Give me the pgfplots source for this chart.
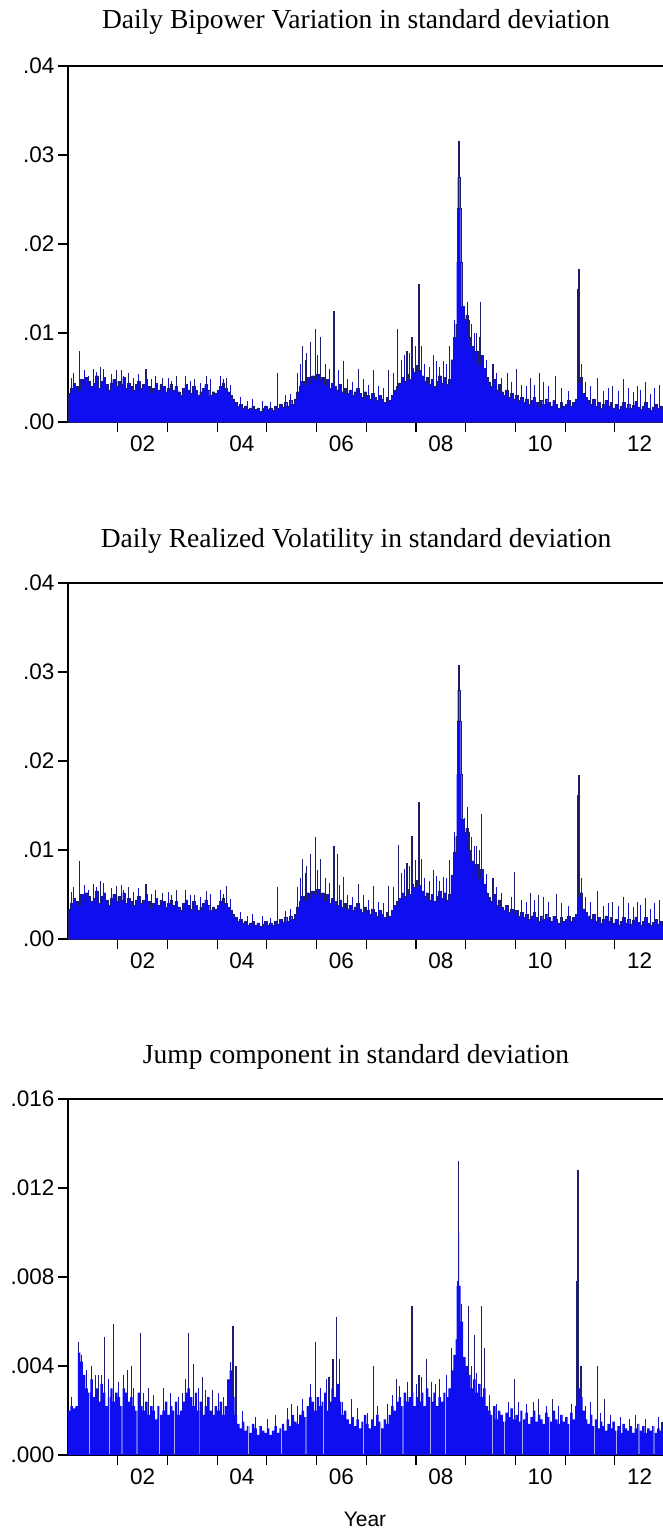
\documentclass[border=0pt]{standalone}
\usepackage{fontspec}
\setmainfont{Liberation Serif}
\newfontfamily\arialf{Liberation Sans}
\usepackage{pgfplots}
\pgfplotsset{compat=1.18}
\definecolor{bandblue}{RGB}{14,14,240}
\definecolor{spikenavy}{RGB}{30,30,110}
\pgfplotsset{
 evstyle/.style={
  scale only axis, width=600pt, height=356pt,
  xmin=2001, xmax=2013.07, ymin=0,
  axis line style={line width=1.3pt},
  tick align=outside, tick pos=left,
  major tick length=10pt,
  tick style={line width=1.1pt, black},
  xtick={2002,2003,2004,2005,2006,2007,2008,2009,2010,2011,2012}, xticklabels={},
  extra x ticks={2002.5,2004.5,2006.5,2008.5,2010.5,2012.5},
  extra x tick labels={02,04,06,08,10,12},
  extra x tick style={major tick length=0pt, tick style={draw=none}},
  ticklabel style={font=\arialf\fontsize{22.5}{22.5}\selectfont},
  x tick label style={yshift=-10pt},
  scaled x ticks=false, scaled y ticks=false,
 },
 band/.style={const plot, fill=bandblue, draw=spikenavy, line width=0.35pt},
 bandj/.style={const plot, fill=bandblue, draw=none},
 spk/.style={ycomb, draw=spikenavy, line width=1.1pt},
 spk2/.style={ycomb, draw=bandblue!70!spikenavy, line width=1.0pt},
}
\begin{document}
\begin{tikzpicture}
\node[font=\fontsize{27.5}{27.5}\selectfont] at (356pt,-22pt) {Daily Bipower Variation in standard deviation};
\node[font=\fontsize{27.5}{27.5}\selectfont] at (356pt,-541pt) {Daily Realized Volatility in standard deviation};
\node[font=\fontsize{27.5}{27.5}\selectfont] at (356pt,-1057pt) {Jump component in standard deviation};
\node[font=\arialf\fontsize{21}{21}\selectfont] at (365pt,-1519pt) {Year};

% ---------- Panel 1: BV ----------
\begin{axis}[evstyle, at={(68pt,-66pt)}, anchor=north west, ymax=0.04,
  ytick={0,0.01,0.02,0.03,0.04}, yticklabels={.00,.01,.02,.03,.04}]
\addplot[spk] coordinates {(2001.24,0.0080) (2001.52,0.0060) (2001.66,0.0062) (2001.98,0.0058) (2002.22,0.0055) (2002.57,0.0060) (2002.90,0.0050) (2003.18,0.0052) (2003.55,0.0048) (2003.78,0.0052) (2004.18,0.0050) (2005.22,0.0055) (2005.72,0.0085) (2005.80,0.0078) (2005.88,0.0090) (2005.97,0.0105) (2006.08,0.0095) (2006.35,0.0125) (2006.55,0.0068) (2006.85,0.0060) (2007.15,0.0058) (2007.45,0.0058) (2007.62,0.0105) (2007.82,0.0080) (2007.92,0.0095) (2008.06,0.0155) (2008.12,0.0085) (2008.35,0.0075) (2008.55,0.0068) (2009.04,0.0135) (2009.12,0.0110) (2009.22,0.0100) (2009.30,0.0135) (2009.55,0.0065) (2009.85,0.0055) (2010.02,0.0060) (2010.30,0.0050) (2010.48,0.0055) (2010.80,0.0052) (2011.25,0.0150) (2011.28,0.0172) (2011.66,0.0050) (2011.95,0.0040) (2012.18,0.0048) (2012.45,0.0040) (2012.62,0.0045) (2012.90,0.0042)};
\addplot[spk2] coordinates {(2001.07,0.0050)(2001.12,0.0055)(2001.33,0.0058)(2001.42,0.0052)(2001.58,0.0056)(2001.72,0.0060)(2001.87,0.0054)(2002.07,0.0058)(2002.12,0.0052)(2002.32,0.0050)(2002.42,0.0054)(2002.67,0.0048)(2002.77,0.0052)(2003.02,0.0050)(2003.08,0.0046)(2003.37,0.0052)(2003.47,0.0046)(2003.67,0.0044)(2003.87,0.0048)(2004.07,0.0052)(2004.12,0.0048)(2004.27,0.0042)(2004.47,0.0028)(2004.62,0.0024)(2004.72,0.0026)(2004.92,0.0024)(2005.07,0.0022)(2005.37,0.0030)(2005.47,0.0032)(2005.62,0.0055)(2005.67,0.0065)(2005.77,0.0070)(2006.02,0.0075)(2006.17,0.0065)(2006.27,0.0060)(2006.45,0.0058)(2006.62,0.0048)(2006.72,0.0045)(2006.95,0.0048)(2007.05,0.0042)(2007.25,0.0040)(2007.35,0.0038)(2007.55,0.0055)(2007.70,0.0070)(2007.77,0.0075)(2007.87,0.0078)(2008.00,0.0085)(2008.18,0.0065)(2008.27,0.0062)(2008.42,0.0068)(2008.47,0.0062)(2008.62,0.0065)(2008.68,0.0085)(2008.77,0.0115)(2008.97,0.0130)(2009.08,0.0115)(2009.18,0.0100)(2009.27,0.0095)(2009.42,0.0070)(2009.62,0.0055)(2009.72,0.0050)(2009.92,0.0045)(2010.12,0.0042)(2010.22,0.0040)(2010.38,0.0042)(2010.57,0.0045)(2010.67,0.0040)(2010.92,0.0038)(2011.07,0.0035)(2011.32,0.0065)(2011.42,0.0045)(2011.52,0.0040)(2011.77,0.0035)(2011.87,0.0038)(2012.07,0.0035)(2012.27,0.0038)(2012.37,0.0034)(2012.52,0.0036)(2012.72,0.0032)(2012.80,0.0038)(2012.97,0.0032)};
\addplot[band] coordinates {
(2001.00,0.0032)(2001.05,0.0038)(2001.10,0.0044)(2001.15,0.0040)(2001.20,0.0036)(2001.25,0.0048)(2001.30,0.0042)(2001.35,0.0050)(2001.40,0.0046)(2001.45,0.0040)(2001.50,0.0044)(2001.55,0.0052)(2001.60,0.0038)(2001.65,0.0046)(2001.70,0.0050)(2001.75,0.0042)(2001.80,0.0036)(2001.85,0.0044)(2001.90,0.0048)(2001.95,0.0040)
(2002.00,0.0046)(2002.05,0.0042)(2002.10,0.0050)(2002.15,0.0038)(2002.20,0.0044)(2002.25,0.0040)(2002.30,0.0036)(2002.35,0.0042)(2002.40,0.0046)(2002.45,0.0038)(2002.50,0.0042)(2002.55,0.0048)(2002.60,0.0040)(2002.65,0.0034)(2002.70,0.0038)(2002.75,0.0044)(2002.80,0.0036)(2002.85,0.0042)(2002.90,0.0040)(2002.95,0.0034)
(2003.00,0.0038)(2003.05,0.0042)(2003.10,0.0036)(2003.15,0.0040)(2003.20,0.0034)(2003.25,0.0030)(2003.30,0.0038)(2003.35,0.0042)(2003.40,0.0036)(2003.45,0.0032)(2003.50,0.0040)(2003.55,0.0036)(2003.60,0.0030)(2003.65,0.0034)(2003.70,0.0038)(2003.75,0.0042)(2003.80,0.0036)(2003.85,0.0030)(2003.90,0.0034)(2003.95,0.0032)
(2004.00,0.0036)(2004.05,0.0040)(2004.10,0.0044)(2004.15,0.0038)(2004.20,0.0034)(2004.25,0.0030)(2004.30,0.0026)(2004.35,0.0022)(2004.40,0.0018)(2004.45,0.0020)(2004.50,0.0016)(2004.55,0.0018)(2004.60,0.0014)(2004.65,0.0016)(2004.70,0.0018)(2004.75,0.0014)(2004.80,0.0016)(2004.85,0.0012)(2004.90,0.0015)(2004.95,0.0018)
(2005.00,0.0014)(2005.05,0.0016)(2005.10,0.0013)(2005.15,0.0018)(2005.20,0.0015)(2005.25,0.0020)(2005.30,0.0017)(2005.35,0.0022)(2005.40,0.0018)(2005.45,0.0024)(2005.50,0.0020)(2005.55,0.0026)(2005.60,0.0034)(2005.65,0.0040)(2005.70,0.0046)(2005.75,0.0042)(2005.80,0.0050)(2005.85,0.0044)(2005.90,0.0052)(2005.95,0.0048)
(2006.00,0.0054)(2006.05,0.0046)(2006.10,0.0050)(2006.15,0.0042)(2006.20,0.0048)(2006.25,0.0038)(2006.30,0.0044)(2006.35,0.0040)(2006.40,0.0036)(2006.45,0.0042)(2006.50,0.0034)(2006.55,0.0038)(2006.60,0.0032)(2006.65,0.0036)(2006.70,0.0030)(2006.75,0.0034)(2006.80,0.0038)(2006.85,0.0032)(2006.90,0.0028)(2006.95,0.0034)
(2007.00,0.0030)(2007.05,0.0026)(2007.10,0.0032)(2007.15,0.0028)(2007.20,0.0024)(2007.25,0.0030)(2007.30,0.0026)(2007.35,0.0022)(2007.40,0.0028)(2007.45,0.0024)(2007.50,0.0030)(2007.55,0.0036)(2007.60,0.0040)(2007.65,0.0044)(2007.70,0.0050)(2007.75,0.0046)(2007.80,0.0054)(2007.85,0.0048)(2007.90,0.0060)(2007.95,0.0056)
(2008.00,0.0064)(2008.05,0.0058)(2008.10,0.0052)(2008.15,0.0046)(2008.20,0.0050)(2008.25,0.0042)(2008.30,0.0048)(2008.35,0.0040)(2008.40,0.0046)(2008.45,0.0052)(2008.50,0.0044)(2008.55,0.0050)(2008.60,0.0042)(2008.65,0.0048)(2008.70,0.0070)(2008.75,0.0095)(2008.80,0.0110)(2008.82,0.0180)(2008.83,0.0240)(2008.84,0.0275)(2008.855,0.0316)(2008.865,0.0275)(2008.88,0.0240)(2008.90,0.0180)(2008.92,0.0130)(2008.95,0.0115)
(2009.00,0.0120)(2009.05,0.0095)(2009.10,0.0085)(2009.15,0.0070)(2009.20,0.0080)(2009.25,0.0065)(2009.30,0.0075)(2009.35,0.0060)(2009.40,0.0050)(2009.45,0.0045)(2009.50,0.0040)(2009.55,0.0048)(2009.60,0.0036)(2009.65,0.0042)(2009.70,0.0034)(2009.75,0.0030)(2009.80,0.0036)(2009.85,0.0028)(2009.90,0.0032)(2009.95,0.0026)
(2010.00,0.0030)(2010.05,0.0024)(2010.10,0.0028)(2010.15,0.0022)(2010.20,0.0026)(2010.25,0.0020)(2010.30,0.0024)(2010.35,0.0028)(2010.40,0.0022)(2010.45,0.0018)(2010.50,0.0024)(2010.55,0.0020)(2010.60,0.0026)(2010.65,0.0022)(2010.70,0.0018)(2010.75,0.0024)(2010.80,0.0020)(2010.85,0.0016)(2010.90,0.0022)(2010.95,0.0018)
(2011.00,0.0020)(2011.05,0.0024)(2011.10,0.0018)(2011.15,0.0022)(2011.20,0.0026)(2011.25,0.0045)(2011.30,0.0050)(2011.35,0.0032)(2011.40,0.0028)(2011.45,0.0024)(2011.50,0.0020)(2011.55,0.0026)(2011.60,0.0018)(2011.65,0.0022)(2011.70,0.0016)(2011.75,0.0020)(2011.80,0.0024)(2011.85,0.0018)(2011.90,0.0022)(2011.95,0.0016)
(2012.00,0.0020)(2012.05,0.0014)(2012.10,0.0018)(2012.15,0.0022)(2012.20,0.0016)(2012.25,0.0020)(2012.30,0.0015)(2012.35,0.0019)(2012.40,0.0023)(2012.45,0.0017)(2012.50,0.0014)(2012.55,0.0018)(2012.60,0.0022)(2012.65,0.0016)(2012.70,0.0013)(2012.75,0.0017)(2012.80,0.0020)(2012.85,0.0015)(2012.90,0.0018)(2012.95,0.0014)
(2013.00,0.0016)(2013.05,0.0018)(2013.10,0.0018)} \closedcycle;
\end{axis}

% ---------- Panel 2: RV ----------
\begin{axis}[evstyle, at={(68pt,-583pt)}, anchor=north west, ymax=0.04,
  ytick={0,0.01,0.02,0.03,0.04}, yticklabels={.00,.01,.02,.03,.04}]
\addplot[spk] coordinates {(2001.24,0.0088) (2001.52,0.0062) (2001.66,0.0065) (2001.98,0.0060) (2002.22,0.0058) (2002.57,0.0062) (2002.90,0.0052) (2003.18,0.0055) (2003.55,0.0050) (2003.78,0.0054) (2004.18,0.0060) (2005.22,0.0058) (2005.72,0.0090) (2005.80,0.0082) (2005.88,0.0095) (2005.97,0.0115) (2006.08,0.0090) (2006.35,0.0105) (2006.42,0.0095) (2006.55,0.0070) (2006.85,0.0062) (2007.15,0.0060) (2007.45,0.0060) (2007.64,0.0106) (2007.82,0.0085) (2007.92,0.0116) (2008.06,0.0154) (2008.12,0.0090) (2008.35,0.0078) (2008.55,0.0070) (2009.03,0.0148) (2009.12,0.0115) (2009.22,0.0105) (2009.31,0.0140) (2009.55,0.0068) (2009.99,0.0075) (2010.30,0.0052) (2010.46,0.0049) (2010.82,0.0051) (2011.26,0.0162) (2011.28,0.0184) (2011.66,0.0054) (2011.95,0.0042) (2012.17,0.0047) (2012.45,0.0042) (2012.62,0.0046) (2012.90,0.0044)};
\addplot[spk2] coordinates {(2001.07,0.0053)(2001.12,0.0058)(2001.33,0.0061)(2001.42,0.0055)(2001.58,0.0059)(2001.72,0.0063)(2001.87,0.0057)(2002.07,0.0061)(2002.12,0.0055)(2002.32,0.0053)(2002.42,0.0057)(2002.67,0.0051)(2002.77,0.0055)(2003.02,0.0053)(2003.08,0.0049)(2003.37,0.0055)(2003.47,0.0049)(2003.67,0.0047)(2003.87,0.0051)(2004.07,0.0055)(2004.12,0.0051)(2004.27,0.0045)(2004.47,0.0030)(2004.62,0.0026)(2004.72,0.0028)(2004.92,0.0026)(2005.07,0.0024)(2005.37,0.0032)(2005.47,0.0034)(2005.62,0.0058)(2005.67,0.0068)(2005.77,0.0074)(2006.02,0.0078)(2006.17,0.0068)(2006.27,0.0063)(2006.47,0.0061)(2006.62,0.0050)(2006.72,0.0047)(2006.95,0.0050)(2007.05,0.0044)(2007.25,0.0042)(2007.35,0.0040)(2007.55,0.0058)(2007.70,0.0074)(2007.77,0.0079)(2007.87,0.0082)(2008.00,0.0089)(2008.18,0.0068)(2008.27,0.0065)(2008.42,0.0071)(2008.47,0.0065)(2008.62,0.0068)(2008.68,0.0089)(2008.77,0.0120)(2008.97,0.0136)(2009.08,0.0120)(2009.18,0.0105)(2009.27,0.0100)(2009.42,0.0073)(2009.62,0.0058)(2009.72,0.0052)(2009.92,0.0047)(2010.12,0.0044)(2010.22,0.0042)(2010.38,0.0044)(2010.57,0.0047)(2010.67,0.0042)(2010.92,0.0040)(2011.07,0.0037)(2011.32,0.0068)(2011.42,0.0047)(2011.52,0.0042)(2011.77,0.0037)(2011.87,0.0040)(2012.07,0.0037)(2012.27,0.0040)(2012.37,0.0036)(2012.52,0.0038)(2012.72,0.0034)(2012.80,0.0040)(2012.97,0.0034)};
\addplot[band] coordinates {
(2001.00,0.0034)(2001.05,0.0040)(2001.10,0.0046)(2001.15,0.0042)(2001.20,0.0038)(2001.25,0.0050)(2001.30,0.0044)(2001.35,0.0052)(2001.40,0.0048)(2001.45,0.0042)(2001.50,0.0046)(2001.55,0.0054)(2001.60,0.0040)(2001.65,0.0048)(2001.70,0.0052)(2001.75,0.0044)(2001.80,0.0038)(2001.85,0.0046)(2001.90,0.0050)(2001.95,0.0042)
(2002.00,0.0048)(2002.05,0.0044)(2002.10,0.0052)(2002.15,0.0040)(2002.20,0.0046)(2002.25,0.0042)(2002.30,0.0038)(2002.35,0.0044)(2002.40,0.0048)(2002.45,0.0040)(2002.50,0.0044)(2002.55,0.0050)(2002.60,0.0042)(2002.65,0.0036)(2002.70,0.0040)(2002.75,0.0046)(2002.80,0.0038)(2002.85,0.0044)(2002.90,0.0042)(2002.95,0.0036)
(2003.00,0.0040)(2003.05,0.0044)(2003.10,0.0038)(2003.15,0.0042)(2003.20,0.0036)(2003.25,0.0032)(2003.30,0.0040)(2003.35,0.0044)(2003.40,0.0038)(2003.45,0.0034)(2003.50,0.0042)(2003.55,0.0038)(2003.60,0.0032)(2003.65,0.0036)(2003.70,0.0040)(2003.75,0.0044)(2003.80,0.0038)(2003.85,0.0032)(2003.90,0.0036)(2003.95,0.0034)
(2004.00,0.0038)(2004.05,0.0042)(2004.10,0.0046)(2004.15,0.0040)(2004.20,0.0036)(2004.25,0.0032)(2004.30,0.0028)(2004.35,0.0024)(2004.40,0.0020)(2004.45,0.0022)(2004.50,0.0018)(2004.55,0.0020)(2004.60,0.0016)(2004.65,0.0018)(2004.70,0.0020)(2004.75,0.0016)(2004.80,0.0018)(2004.85,0.0014)(2004.90,0.0017)(2004.95,0.0020)
(2005.00,0.0016)(2005.05,0.0018)(2005.10,0.0015)(2005.15,0.0020)(2005.20,0.0017)(2005.25,0.0022)(2005.30,0.0019)(2005.35,0.0024)(2005.40,0.0020)(2005.45,0.0026)(2005.50,0.0022)(2005.55,0.0028)(2005.60,0.0036)(2005.65,0.0042)(2005.70,0.0048)(2005.75,0.0044)(2005.80,0.0052)(2005.85,0.0046)(2005.90,0.0054)(2005.95,0.0050)
(2006.00,0.0056)(2006.05,0.0048)(2006.10,0.0052)(2006.15,0.0044)(2006.20,0.0050)(2006.25,0.0040)(2006.30,0.0046)(2006.35,0.0042)(2006.40,0.0038)(2006.45,0.0044)(2006.50,0.0036)(2006.55,0.0040)(2006.60,0.0034)(2006.65,0.0038)(2006.70,0.0032)(2006.75,0.0036)(2006.80,0.0040)(2006.85,0.0034)(2006.90,0.0030)(2006.95,0.0036)
(2007.00,0.0032)(2007.05,0.0028)(2007.10,0.0034)(2007.15,0.0030)(2007.20,0.0026)(2007.25,0.0032)(2007.30,0.0028)(2007.35,0.0024)(2007.40,0.0030)(2007.45,0.0026)(2007.50,0.0032)(2007.55,0.0038)(2007.60,0.0042)(2007.65,0.0046)(2007.70,0.0052)(2007.75,0.0048)(2007.80,0.0056)(2007.85,0.0050)(2007.90,0.0062)(2007.95,0.0058)
(2008.00,0.0066)(2008.05,0.0060)(2008.10,0.0054)(2008.15,0.0048)(2008.20,0.0052)(2008.25,0.0044)(2008.30,0.0050)(2008.35,0.0042)(2008.40,0.0048)(2008.45,0.0054)(2008.50,0.0046)(2008.55,0.0052)(2008.60,0.0044)(2008.65,0.0050)(2008.70,0.0072)(2008.75,0.0098)(2008.80,0.0115)(2008.82,0.0185)(2008.83,0.0245)(2008.84,0.0280)(2008.855,0.0308)(2008.865,0.0280)(2008.88,0.0245)(2008.90,0.0185)(2008.92,0.0135)(2008.95,0.0120)
(2009.00,0.0125)(2009.05,0.0100)(2009.10,0.0088)(2009.15,0.0074)(2009.20,0.0084)(2009.25,0.0068)(2009.30,0.0078)(2009.35,0.0062)(2009.40,0.0052)(2009.45,0.0047)(2009.50,0.0042)(2009.55,0.0050)(2009.60,0.0038)(2009.65,0.0044)(2009.70,0.0036)(2009.75,0.0032)(2009.80,0.0038)(2009.85,0.0030)(2009.90,0.0034)(2009.95,0.0028)
(2010.00,0.0032)(2010.05,0.0026)(2010.10,0.0030)(2010.15,0.0024)(2010.20,0.0028)(2010.25,0.0022)(2010.30,0.0026)(2010.35,0.0030)(2010.40,0.0024)(2010.45,0.0020)(2010.50,0.0026)(2010.55,0.0022)(2010.60,0.0028)(2010.65,0.0024)(2010.70,0.0020)(2010.75,0.0026)(2010.80,0.0022)(2010.85,0.0018)(2010.90,0.0024)(2010.95,0.0020)
(2011.00,0.0022)(2011.05,0.0026)(2011.10,0.0020)(2011.15,0.0024)(2011.20,0.0028)(2011.25,0.0048)(2011.30,0.0052)(2011.35,0.0034)(2011.40,0.0030)(2011.45,0.0026)(2011.50,0.0022)(2011.55,0.0028)(2011.60,0.0020)(2011.65,0.0024)(2011.70,0.0018)(2011.75,0.0022)(2011.80,0.0026)(2011.85,0.0020)(2011.90,0.0024)(2011.95,0.0018)
(2012.00,0.0022)(2012.05,0.0016)(2012.10,0.0020)(2012.15,0.0024)(2012.20,0.0018)(2012.25,0.0022)(2012.30,0.0017)(2012.35,0.0021)(2012.40,0.0025)(2012.45,0.0019)(2012.50,0.0016)(2012.55,0.0020)(2012.60,0.0024)(2012.65,0.0018)(2012.70,0.0015)(2012.75,0.0019)(2012.80,0.0022)(2012.85,0.0017)(2012.90,0.0020)(2012.95,0.0016)
(2013.00,0.0018)(2013.05,0.0020)(2013.10,0.0020)} \closedcycle;
\end{axis}

% ---------- Panel 3: Jump ----------
\begin{axis}[evstyle, at={(68pt,-1099pt)}, anchor=north west, ymax=0.016,
  ytick={0,0.004,0.008,0.012,0.016}, yticklabels={.000,.004,.008,.012,.016}]
\addplot[spk] coordinates {(2001.22,0.0051) (2001.28,0.0045) (2001.55,0.0036) (2001.61,0.0036) (2001.74,0.0053) (2001.91,0.0059) (2002.19,0.0038) (2002.27,0.0040) (2002.45,0.0055) (2002.62,0.0030) (2003.31,0.0028) (2003.43,0.0055) (2003.53,0.0041) (2003.70,0.0035) (2003.90,0.0029) (2004.32,0.0058) (2004.38,0.0040) (2005.50,0.0023) (2005.97,0.0051) (2006.25,0.0035) (2006.33,0.0043) (2006.41,0.0062) (2006.47,0.0043) (2006.70,0.0025) (2007.14,0.0040) (2007.60,0.0034) (2007.92,0.0067) (2008.06,0.0036) (2008.22,0.0043) (2008.40,0.0032) (2008.83,0.0078) (2008.85,0.0132) (2009.05,0.0067) (2009.17,0.0054) (2009.31,0.0067) (2009.37,0.0048) (2009.99,0.0034) (2010.46,0.0025) (2010.74,0.0025) (2011.24,0.0078) (2011.26,0.0128) (2011.32,0.0040) (2011.66,0.0040) (2011.80,0.0025) (2012.30,0.0016) (2012.95,0.0015)};
\addplot[spk2] coordinates {(2001.07,0.0026)(2001.37,0.0038)(2001.47,0.0040)(2001.67,0.0036)(2001.82,0.0034)(2002.02,0.0033)(2002.12,0.0036)(2002.32,0.0030)(2002.52,0.0028)(2002.72,0.0027)(2002.92,0.0030)(2003.07,0.0028)(2003.22,0.0026)(2003.37,0.0034)(2003.62,0.0030)(2003.77,0.0029)(2004.02,0.0028)(2004.12,0.0026)(2004.27,0.0042)(2004.52,0.0020)(2004.77,0.0017)(2005.02,0.0016)(2005.17,0.0018)(2005.42,0.0021)(2005.62,0.0022)(2005.72,0.0025)(2005.87,0.0032)(2006.07,0.0030)(2006.20,0.0034)(2006.52,0.0024)(2006.82,0.0021)(2007.02,0.0019)(2007.22,0.0022)(2007.42,0.0023)(2007.52,0.0027)(2007.67,0.0031)(2007.82,0.0033)(2008.02,0.0032)(2008.12,0.0035)(2008.32,0.0033)(2008.47,0.0034)(2008.62,0.0036)(2008.72,0.0048)(2008.92,0.0068)(2009.12,0.0040)(2009.22,0.0037)(2009.47,0.0027)(2009.62,0.0023)(2009.87,0.0024)(2010.07,0.0024)(2010.22,0.0023)(2010.37,0.0024)(2010.62,0.0022)(2010.87,0.0022)(2011.12,0.0023)(2011.42,0.0022)(2011.52,0.0024)(2011.72,0.0019)(2011.92,0.0018)(2012.12,0.0017)(2012.42,0.0018)(2012.62,0.0016)(2012.87,0.0017)};
\addplot[bandj] coordinates {
(2001.00,0.0020)(2001.05,0.0022)(2001.10,0.0021)(2001.15,0.0022)(2001.20,0.0046)(2001.25,0.0042)(2001.30,0.0036)(2001.35,0.0030)(2001.40,0.0028)(2001.43,0)(2001.445,0.0028)(2001.45,0.0034)(2001.50,0.0026)(2001.55,0.0030)(2001.60,0.0024)(2001.65,0.0032)(2001.70,0.0028)(2001.75,0.0022)(2001.80,0.0026)(2001.83,0)(2001.845,0.0026)(2001.85,0.0030)(2001.90,0.0024)(2001.95,0.0028)
(2002.00,0.0026)(2002.05,0.0022)(2002.08,0)(2002.095,0.0022)(2002.10,0.0030)(2002.15,0.0028)(2002.20,0.0024)(2002.25,0.0026)(2002.30,0.0022)(2002.35,0.0020)(2002.38,0)(2002.395,0.0020)(2002.40,0.0028)(2002.45,0.0022)(2002.50,0.0020)(2002.55,0.0024)(2002.60,0.0018)(2002.65,0.0022)(2002.70,0.0020)(2002.75,0.0016)(2002.80,0.0022)(2002.83,0)(2002.845,0.0022)(2002.85,0.0018)(2002.90,0.0020)(2002.95,0.0024)
(2003.00,0.0018)(2003.05,0.0022)(2003.10,0.0020)(2003.13,0)(2003.145,0.0020)(2003.15,0.0024)(2003.20,0.0018)(2003.25,0.0020)(2003.30,0.0024)(2003.35,0.0028)(2003.40,0.0030)(2003.45,0.0026)(2003.50,0.0022)(2003.55,0.0028)(2003.60,0.0020)(2003.63,0)(2003.645,0.0020)(2003.65,0.0024)(2003.70,0.0018)(2003.75,0.0022)(2003.80,0.0026)(2003.85,0.0020)(2003.90,0.0018)(2003.95,0.0022)
(2004.00,0.0020)(2004.05,0.0024)(2004.10,0.0018)(2004.15,0.0022)(2004.20,0.0034)(2004.25,0.0038)(2004.30,0.0026)(2004.35,0.0018)(2004.40,0.0014)(2004.45,0.0012)(2004.50,0.0015)(2004.55,0.0011)(2004.60,0.0013)(2004.63,0)(2004.645,0.0013)(2004.65,0.0010)(2004.70,0.0014)(2004.75,0.0012)(2004.80,0.0009)(2004.85,0.0013)(2004.90,0.0011)(2004.95,0.0010)
(2005.00,0.0012)(2005.05,0.0009)(2005.10,0.0011)(2005.15,0.0013)(2005.20,0.0010)(2005.25,0.0012)(2005.28,0)(2005.295,0.0012)(2005.30,0.0014)(2005.35,0.0011)(2005.40,0.0016)(2005.45,0.0013)(2005.50,0.0018)(2005.55,0.0015)(2005.60,0.0014)(2005.65,0.0018)(2005.70,0.0020)(2005.75,0.0017)(2005.78,0)(2005.795,0.0017)(2005.80,0.0022)(2005.85,0.0026)(2005.90,0.0024)(2005.95,0.0020)
(2006.00,0.0026)(2006.05,0.0022)(2006.10,0.0024)(2006.13,0)(2006.145,0.0024)(2006.15,0.0028)(2006.20,0.0020)(2006.25,0.0024)(2006.30,0.0030)(2006.35,0.0026)(2006.40,0.0032)(2006.45,0.0024)(2006.50,0.0018)(2006.55,0.0020)(2006.60,0.0016)(2006.65,0.0014)(2006.70,0.0017)(2006.75,0.0013)(2006.80,0.0016)(2006.85,0.0012)(2006.90,0.0015)(2006.93,0)(2006.945,0.0015)(2006.95,0.0018)
(2007.00,0.0014)(2007.05,0.0012)(2007.10,0.0016)(2007.15,0.0013)(2007.20,0.0018)(2007.25,0.0015)(2007.28,0)(2007.295,0.0015)(2007.30,0.0012)(2007.35,0.0016)(2007.40,0.0014)(2007.45,0.0018)(2007.50,0.0022)(2007.55,0.0020)(2007.60,0.0024)(2007.65,0.0026)(2007.70,0.0022)(2007.73,0)(2007.745,0.0022)(2007.75,0.0028)(2007.80,0.0024)(2007.85,0.0026)(2007.90,0.0028)(2007.95,0.0022)
(2008.00,0.0026)(2008.05,0.0024)(2008.10,0.0028)(2008.15,0.0022)(2008.20,0.0030)(2008.25,0.0026)(2008.28,0)(2008.295,0.0026)(2008.30,0.0024)(2008.35,0.0028)(2008.40,0.0022)(2008.45,0.0026)(2008.50,0.0024)(2008.55,0.0028)(2008.58,0)(2008.595,0.0028)(2008.60,0.0026)(2008.65,0.0030)(2008.70,0.0038)(2008.75,0.0045)(2008.80,0.0052)(2008.82,0.0076)(2008.84,0.0078)(2008.86,0.0100)(2008.87,0.0076)(2008.90,0.0060)(2008.95,0.0044)
(2009.00,0.0040)(2009.05,0.0036)(2009.10,0.0030)(2009.15,0.0034)(2009.20,0.0028)(2009.25,0.0032)(2009.30,0.0026)(2009.35,0.0030)(2009.40,0.0022)(2009.45,0.0020)(2009.50,0.0018)(2009.53,0)(2009.545,0.0018)(2009.55,0.0022)(2009.60,0.0016)(2009.65,0.0020)(2009.70,0.0018)(2009.75,0.0015)(2009.78,0)(2009.795,0.0015)(2009.80,0.0019)(2009.85,0.0017)(2009.90,0.0021)(2009.95,0.0016)
(2010.00,0.0018)(2010.05,0.0015)(2010.10,0.0020)(2010.13,0)(2010.145,0.0020)(2010.15,0.0016)(2010.20,0.0019)(2010.25,0.0014)(2010.30,0.0017)(2010.35,0.0020)(2010.40,0.0015)(2010.45,0.0018)(2010.50,0.0016)(2010.55,0.0014)(2010.60,0.0019)(2010.65,0.0017)(2010.68,0)(2010.695,0.0017)(2010.70,0.0015)(2010.75,0.0020)(2010.80,0.0016)(2010.85,0.0014)(2010.90,0.0018)(2010.95,0.0015)
(2011.00,0.0017)(2011.05,0.0014)(2011.08,0)(2011.095,0.0014)(2011.10,0.0019)(2011.15,0.0016)(2011.20,0.0022)(2011.25,0.0030)(2011.30,0.0026)(2011.35,0.0020)(2011.40,0.0016)(2011.45,0.0014)(2011.50,0.0018)(2011.55,0.0013)(2011.58,0)(2011.595,0.0013)(2011.60,0.0016)(2011.65,0.0012)(2011.70,0.0015)(2011.75,0.0013)(2011.80,0.0011)(2011.85,0.0014)(2011.90,0.0012)(2011.95,0.0015)
(2012.00,0.0011)(2012.03,0)(2012.045,0.0011)(2012.05,0.0013)(2012.10,0.0010)(2012.15,0.0014)(2012.20,0.0012)(2012.25,0.0011)(2012.30,0.0013)(2012.35,0.0010)(2012.40,0.0012)(2012.45,0.0014)(2012.48,0)(2012.495,0.0014)(2012.50,0.0011)(2012.55,0.0013)(2012.60,0.0010)(2012.65,0.0012)(2012.70,0.0011)(2012.75,0.0013)(2012.78,0)(2012.795,0.0013)(2012.80,0.0010)(2012.85,0.0012)(2012.90,0.0011)(2012.95,0.0013)
(2013.00,0.0012)(2013.10,0.0012)} \closedcycle;
\end{axis}
\pgfresetboundingbox
\useasboundingbox (0pt,0pt) rectangle (663pt,-1537pt);
\end{tikzpicture}
\end{document}
